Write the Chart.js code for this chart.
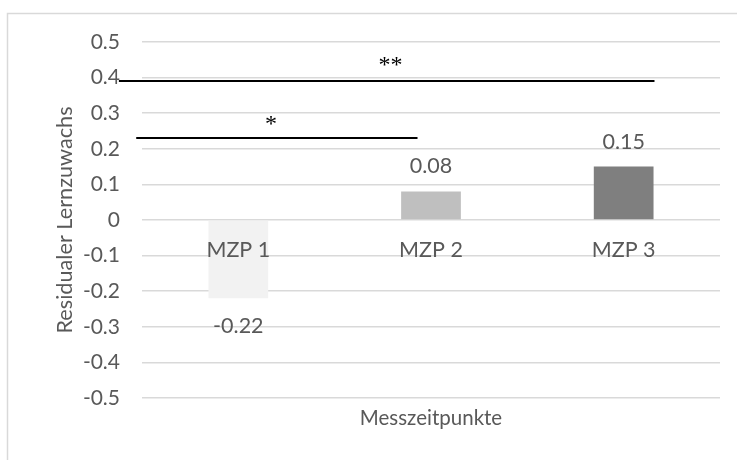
<!DOCTYPE html>
<html>
<head>
<meta charset="utf-8">
<script src="https://cdn.jsdelivr.net/npm/chart.js@4/dist/chart.umd.min.js"></script>
<style>
    html, body { margin: 0; padding: 0; background: #fff; }
    #wrap { width: 737px; height: 460px; position: relative; }
</style>
</head>
<body>
<div id="wrap"><canvas id="chart"></canvas></div>
<script>
const categories = ["MZP 1", "MZP 2", "MZP 3"];
const residuals = [-0.22, 0.08, 0.15];
const barColors = ["#f2f2f2", "#bfbfbf", "#7f7f7f"];

// significance brackets (x in category units: MZP 1 = 0 ... MZP 3 = 2)
const sigLabels = ["*", "**"];
const sigLevels = [0.23, 0.39];
const sigStart = [-0.53, -0.62];
const sigEnd = [0.93, 2.16];
const sigTextX = [0.17, 0.79];
const sigTextY = [0.28, 0.444];

const textColor = "#595959";
const fontFamily = "Lato, 'Open Sans', sans-serif";

// category units -> pixel through the x scale
function catPixel(scale, v) {
    return scale.getPixelForDecimal((v + 0.5) / categories.length);
}

const annotatePlugin = {
    id: "annotate",
    beforeDraw(chart) {
        const ctx = chart.ctx;
        ctx.save();
        ctx.strokeStyle = "#d9d9d9";
        ctx.lineWidth = 1.5;
        ctx.strokeRect(7.5, 13.5, 800, 600);
        ctx.restore();
    },
    afterDatasetsDraw(chart) {
        const { ctx, scales: { x, y } } = chart;
        ctx.save();
        ctx.fillStyle = textColor;
        ctx.textAlign = "center";
        ctx.textBaseline = "middle";
        ctx.font = "21.5px " + fontFamily;
        categories.forEach((cat, i) => {
            const px = x.getPixelForValue(i);
            ctx.fillText(cat, px, y.getPixelForValue(0) + 30);
            const v = residuals[i];
            const py = y.getPixelForValue(v) + (v < 0 ? 28 : -25);
            ctx.fillText(v.toFixed(2), px, py);
        });

        // significance lines and stars
        ctx.strokeStyle = "#000";
        ctx.lineWidth = 2;
        sigLevels.forEach((level, i) => {
            const py = Math.round(y.getPixelForValue(level));
            ctx.beginPath();
            ctx.moveTo(catPixel(x, sigStart[i]), py);
            ctx.lineTo(catPixel(x, sigEnd[i]), py);
            ctx.stroke();
        });
        ctx.fillStyle = "#000";
        ctx.font = "24px 'Liberation Serif', serif";
        sigLabels.forEach((lab, i) => {
            ctx.fillText(lab, catPixel(x, sigTextX[i]), y.getPixelForValue(sigTextY[i]) + 4);
        });
        ctx.restore();
    }
};

new Chart(document.getElementById("chart").getContext("2d"), {
    type: "bar",
    data: {
        labels: categories,
        datasets: [
            {
                data: residuals,
                backgroundColor: barColors,
                barPercentage: 0.31,
                categoryPercentage: 1
            }
        ]
    },
    options: {
        responsive: true,
        maintainAspectRatio: false,
        animation: false,
        layout: { padding: { top: 42, right: 17, left: 0, bottom: 0 } },
        plugins: {
            legend: { display: false },
            tooltip: { enabled: false }
        },
        scales: {
            x: {
                grid: { display: false },
                border: { display: false },
                ticks: { display: false },
                title: {
                    display: true,
                    text: "Messzeitpunkte",
                    color: textColor,
                    font: { family: fontFamily, size: 20.5 },
                    padding: { top: 0, bottom: 29 }
                },
                afterFit: (scale) => { scale.height = 62; }
            },
            y: {
                min: -0.5,
                max: 0.5,
                ticks: {
                    stepSize: 0.1,
                    color: textColor,
                    font: { family: fontFamily, size: 21 },
                    padding: 22,
                    callback: (v) => Math.abs(v) < 1e-9 ? "0" : Number(v).toFixed(1)
                },
                grid: { color: "#d9d9d9", lineWidth: 1.5, drawTicks: false },
                border: { display: false },
                title: {
                    display: true,
                    text: "Residualer Lernzuwachs",
                    color: textColor,
                    font: { family: fontFamily, size: 21.7 },
                    padding: { top: 52, bottom: 0 }
                },
                afterFit: (scale) => { scale.width = 142; }
            }
        }
    },
    plugins: [annotatePlugin]
});
</script>
</body>
</html>
